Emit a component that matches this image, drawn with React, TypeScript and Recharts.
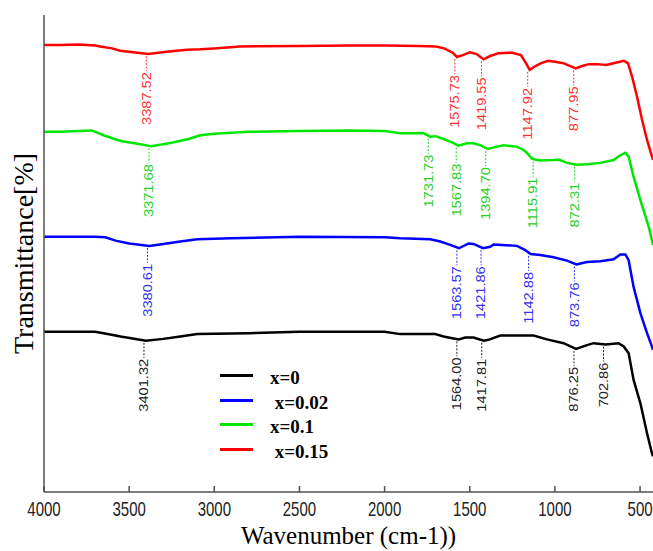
import React from 'react';
import { LineChart, Line, XAxis, YAxis, ReferenceDot, Legend } from 'recharts';

// FTIR spectra, [wavenumber, transmittance]
const specX0: [number, number][] = [
  [4000, 33.6], [3800, 33.6], [3700, 33.6], [3650, 33.3], [3550, 32.6], [3401.32, 31.7],
  [3300, 32.1], [3200, 32.6], [3100, 33.1], [2800, 33.3], [2500, 33.6], [2000, 33.6],
  [1908, 33.1], [1703, 33.1], [1654, 32.6], [1595, 32.2], [1564.0, 32.0], [1527, 32.4],
  [1478, 32.4], [1417.81, 31.7], [1390, 31.9], [1321, 32.8], [1125, 32.8], [1047, 32.0],
  [949, 31.2], [876.25, 30.0], [811, 30.8], [773, 31.2], [702.86, 30.9], [626, 31.2],
  [596, 30.5], [567, 29.1], [538, 23.5], [498, 18.6], [459, 12.3], [430, 8.1], [424, 7.5],
];
const specX002: [number, number][] = [
  [4000, 53.5], [3800, 53.5], [3700, 53.5], [3640, 53.4], [3580, 52.7], [3500, 52.1],
  [3380.61, 51.6], [3300, 52.0], [3200, 52.5], [3100, 53.0], [2900, 53.2], [2500, 53.5],
  [2000, 53.4], [1908, 53.2], [1732, 53.0], [1673, 52.5], [1615, 51.8], [1563.57, 51.1],
  [1507, 52.1], [1478, 52.0], [1421.86, 51.1], [1380, 51.4], [1360, 51.9], [1223, 51.6],
  [1174, 50.7], [1142.88, 49.9], [1086, 49.7], [1008, 49.2], [929, 48.5], [873.76, 47.7],
  [811, 48.2], [733, 48.4], [655, 48.8], [616, 49.8], [586, 49.8], [567, 48.6], [538, 43.0],
  [498, 37.5], [459, 33.3], [430, 30.5], [424, 29.8],
];
const specX01: [number, number][] = [
  [4000, 75.5], [3900, 75.5], [3800, 75.7], [3720, 75.8], [3650, 74.8], [3550, 73.6],
  [3450, 73.0], [3371.68, 72.5], [3300, 72.9], [3250, 73.2], [3150, 74.0], [3083, 74.8],
  [3000, 75.1], [2800, 75.5], [2500, 75.7], [2200, 75.8], [2000, 75.7], [1908, 75.2],
  [1771, 75.2], [1731.73, 74.5], [1700, 74.6], [1654, 74.0], [1597, 73.2], [1567.83, 72.6],
  [1517, 73.1], [1478, 73.1], [1438, 72.7], [1394.7, 71.9], [1340, 72.4], [1301, 72.7],
  [1223, 72.4], [1184, 71.7], [1164, 71.1], [1135, 69.9], [1115.91, 69.7], [1086, 69.5],
  [1008, 69.6], [978, 69.7], [929, 69.0], [872.31, 68.6], [811, 68.7], [733, 69.0],
  [655, 69.6], [616, 70.6], [586, 71.1], [567, 70.3], [538, 66.1], [498, 61.2], [449, 55.6],
  [424, 51.8],
];
const specX015: [number, number][] = [
  [4000, 93.7], [3900, 93.7], [3800, 93.8], [3700, 93.6], [3670, 93.4], [3600, 93.0],
  [3553, 92.5], [3477, 92.2], [3387.52, 91.8], [3280, 92.3], [3160, 92.7], [3083, 92.8],
  [3000, 93.0], [2850, 93.4], [2500, 93.5], [2200, 93.6], [2000, 93.6], [1800, 93.5],
  [1700, 93.4], [1650, 93.0], [1600, 92.1], [1575.73, 91.2], [1540, 91.6], [1500, 92.2],
  [1460, 91.8], [1419.55, 90.7], [1380, 91.4], [1330, 92.0], [1250, 92.1], [1200, 91.6],
  [1170, 89.9], [1147.92, 88.5], [1120, 89.2], [1080, 89.9], [1040, 90.4], [1000, 90.2],
  [950, 89.9], [910, 89.3], [877.95, 88.8], [840, 89.3], [800, 89.7], [750, 89.7],
  [700, 89.5], [655, 89.9], [596, 90.4], [571, 89.9], [547, 87.1], [518, 82.9], [488, 78.0],
  [459, 73.8], [424, 69.6],
];

const peaksX0 = [3401.32, 1564.0, 1417.81, 876.25, 702.86];
const peaksX002 = [3380.61, 1563.57, 1421.86, 1142.88, 873.76];
const peaksX01 = [3371.68, 1731.73, 1567.83, 1394.7, 1115.91, 872.31];
const peaksX015 = [3387.52, 1575.73, 1419.55, 1147.92, 877.95];

const xTicks = [4000, 3500, 3000, 2500, 2000, 1500, 1000, 500];

const series = [
  { name: 'x=0', spec: specX0, peaks: peaksX0, color: '#000000', labelColor: '#222222' },
  { name: ' x=0.02', spec: specX002, peaks: peaksX002, color: '#0000ff', labelColor: '#3030f0' },
  { name: 'x=0.1', spec: specX01, peaks: peaksX01, color: '#00e600', labelColor: '#22d022' },
  { name: ' x=0.15', spec: specX015, peaks: peaksX015, color: '#ff0000', labelColor: '#ff3030' },
];

const toRows = (pairs: [number, number][]) => pairs.map(([wn, t]) => ({ wn, t }));

const W = 653;
const H = 551;
const AXIS = '#505050';
const SERIF = "'Liberation Serif', 'Times New Roman', serif";
const SANS = "'Liberation Sans', Arial, sans-serif";

function PeakMark({ cx, cy, text, color }: { cx?: number; cy?: number; text: string; color: string }) {
  if (cx == null || cy == null) return null;
  const x = cx - 2;
  return (
    <g>
      <line x1={x} y1={cy + 2} x2={x} y2={cy + 17} stroke={color} strokeWidth={1} strokeDasharray="2 1.5" />
      {/* stretched along its length like the original's labels */}
      <text
        transform={`translate(${x},${cy + 18}) rotate(-90) scale(1.22,1)`}
        textAnchor="end"
        dy="0.36em"
        fill={color}
        fontSize={12}
        fontFamily={SANS}
      >
        {text}
      </text>
    </g>
  );
}

// narrow tick labels, like the original's condensed font
function WnTick({ x, y, payload }: any) {
  return (
    <text
      transform={`translate(${x},${y}) scale(0.75,1)`}
      textAnchor="middle"
      dy="0.71em"
      fill="#222"
      fontSize={20}
      fontFamily={SANS}
    >
      {payload.value}
    </text>
  );
}

function YTitle({ viewBox }: any) {
  const cy = viewBox.y + viewBox.height / 2;
  return (
    <text
      transform={`translate(${viewBox.x + 33},${cy}) rotate(-90)`}
      textAnchor="middle"
      fontSize={28}
      fill="#000"
      fontFamily={SERIF}
    >
      Transmittance[%]
    </text>
  );
}

function XTitle({ viewBox }: any) {
  return (
    <text
      x={viewBox.x + viewBox.width / 2}
      y={viewBox.y + 52}
      textAnchor="middle"
      fontSize={25}
      fill="#000"
      fontFamily={SERIF}
    >
      Wavenumber (cm-1))
    </text>
  );
}

const LegendBox = () => (
  <div style={{ fontFamily: SERIF, fontWeight: 'bold', fontSize: 19 }}>
    {series.map((s) => (
      <div key={s.name} style={{ display: 'flex', alignItems: 'center', height: 24.7 }}>
        <span style={{ display: 'inline-block', width: 33, height: 3, background: s.color }} />
        <span style={{ marginLeft: 17, whiteSpace: 'pre', lineHeight: '19px', position: 'relative', top: 2 }}>
          {s.name}
        </span>
      </div>
    ))}
  </div>
);

export default function App() {
  return (
    <div style={{ width: W, height: H }}>
      <style>{'body{margin:0}'}</style>
      <LineChart width={W} height={H} margin={{ top: 15, right: 0, bottom: 29, left: 0 }}>
        <XAxis
          xAxisId="top"
          orientation="top"
          type="number"
          dataKey="wn"
          domain={[424, 4000]}
          reversed
          allowDataOverflow
          ticks={xTicks}
          interval={0}
          tick={false}
          tickSize={-6}
          height={0}
          stroke={AXIS}
          strokeWidth={1.5}
        />
        <XAxis
          type="number"
          dataKey="wn"
          domain={[424, 4000]}
          reversed
          allowDataOverflow
          ticks={xTicks}
          interval={0}
          tickSize={-6}
          tickMargin={16}
          height={30}
          stroke={AXIS}
          strokeWidth={1.5}
          tick={<WnTick />}
          label={<XTitle />}
        />
        <YAxis
          type="number"
          domain={[0, 100]}
          tick={false}
          tickLine={false}
          width={44}
          stroke={AXIS}
          strokeWidth={1.5}
          label={<YTitle />}
        />
        {series.map((s) => (
          <Line
            key={s.name}
            name={s.name}
            data={toRows(s.spec)}
            dataKey="t"
            stroke={s.color}
            strokeWidth={2.5}
            dot={false}
            type="linear"
            isAnimationActive={false}
          />
        ))}
        {series.flatMap((s) =>
          s.peaks.map((wn) => {
            const pt = s.spec.find(([w]) => w === wn);
            return (
              <ReferenceDot
                key={`${s.name}-${wn}`}
                x={wn}
                y={pt ? pt[1] : 0}
                r={0}
                ifOverflow="visible"
                shape={(p: any) => <PeakMark cx={p.cx} cy={p.cy} text={wn.toFixed(2)} color={s.labelColor} />}
              />
            );
          })
        )}
        <Legend
          layout="vertical"
          align="center"
          verticalAlign="middle"
          content={<LegendBox />}
          wrapperStyle={{ left: 220, top: 363, width: 'auto', height: 'auto' }}
        />
      </LineChart>
    </div>
  );
}
